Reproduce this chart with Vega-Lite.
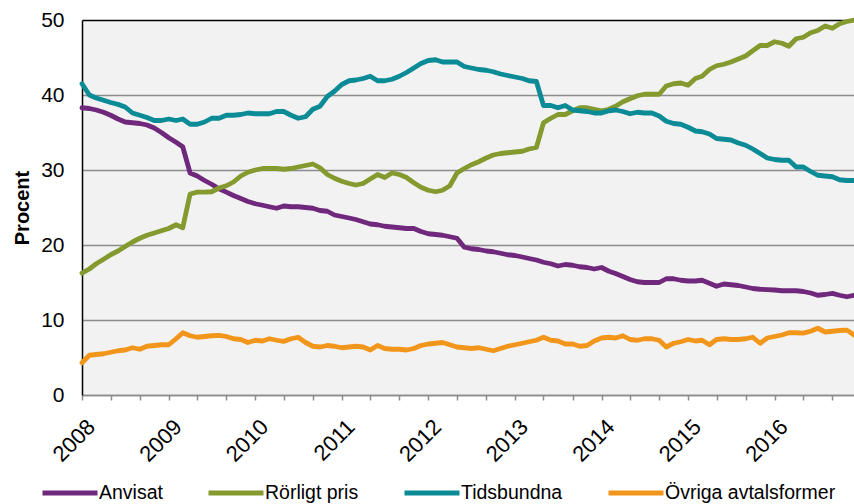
{
"$schema": "https://vega.github.io/schema/vega-lite/v6.json",
"width": 772, "height": 375,
"autosize": {"type": "none"},
"padding": {"left": 82, "top": 20, "right": 0, "bottom": 109},
"background": "white",
"config": {"view": {"fill": "#f2f2f2", "stroke": null}, "font": "Liberation Sans"},
"data": {"values": [
{"d":"2008-01-01","Anvisat":38.3,"Rörligt pris":16.25,"Tidsbundna":41.5,"Övriga avtalsformer":4.3},
{"d":"2008-02-01","Anvisat":38.2,"Rörligt pris":16.8,"Tidsbundna":40.0,"Övriga avtalsformer":5.3},
{"d":"2008-03-01","Anvisat":38.0,"Rörligt pris":17.5,"Tidsbundna":39.6,"Övriga avtalsformer":5.4},
{"d":"2008-04-01","Anvisat":37.7,"Rörligt pris":18.1,"Tidsbundna":39.3,"Övriga avtalsformer":5.5},
{"d":"2008-05-01","Anvisat":37.3,"Rörligt pris":18.7,"Tidsbundna":39.0,"Övriga avtalsformer":5.7},
{"d":"2008-06-01","Anvisat":36.8,"Rörligt pris":19.2,"Tidsbundna":38.75,"Övriga avtalsformer":5.9},
{"d":"2008-07-01","Anvisat":36.4,"Rörligt pris":19.8,"Tidsbundna":38.4,"Övriga avtalsformer":6.0},
{"d":"2008-08-01","Anvisat":36.3,"Rörligt pris":20.4,"Tidsbundna":37.6,"Övriga avtalsformer":6.3},
{"d":"2008-09-01","Anvisat":36.2,"Rörligt pris":20.9,"Tidsbundna":37.3,"Övriga avtalsformer":6.1},
{"d":"2008-10-01","Anvisat":36.0,"Rörligt pris":21.3,"Tidsbundna":37.0,"Övriga avtalsformer":6.5},
{"d":"2008-11-01","Anvisat":35.6,"Rörligt pris":21.6,"Tidsbundna":36.6,"Övriga avtalsformer":6.6},
{"d":"2008-12-01","Anvisat":35.0,"Rörligt pris":21.9,"Tidsbundna":36.6,"Övriga avtalsformer":6.7},
{"d":"2009-01-01","Anvisat":34.3,"Rörligt pris":22.2,"Tidsbundna":36.8,"Övriga avtalsformer":6.7},
{"d":"2009-02-01","Anvisat":33.7,"Rörligt pris":22.7,"Tidsbundna":36.6,"Övriga avtalsformer":7.5},
{"d":"2009-03-01","Anvisat":33.1,"Rörligt pris":22.3,"Tidsbundna":36.8,"Övriga avtalsformer":8.3},
{"d":"2009-04-01","Anvisat":29.6,"Rörligt pris":26.8,"Tidsbundna":36.1,"Övriga avtalsformer":7.9},
{"d":"2009-05-01","Anvisat":29.2,"Rörligt pris":27.05,"Tidsbundna":36.1,"Övriga avtalsformer":7.7},
{"d":"2009-06-01","Anvisat":28.6,"Rörligt pris":27.05,"Tidsbundna":36.4,"Övriga avtalsformer":7.8},
{"d":"2009-07-01","Anvisat":28.1,"Rörligt pris":27.1,"Tidsbundna":36.9,"Övriga avtalsformer":7.9},
{"d":"2009-08-01","Anvisat":27.5,"Rörligt pris":27.6,"Tidsbundna":36.9,"Övriga avtalsformer":7.95},
{"d":"2009-09-01","Anvisat":27.05,"Rörligt pris":27.9,"Tidsbundna":37.3,"Övriga avtalsformer":7.8},
{"d":"2009-10-01","Anvisat":26.6,"Rörligt pris":28.4,"Tidsbundna":37.3,"Övriga avtalsformer":7.5},
{"d":"2009-11-01","Anvisat":26.2,"Rörligt pris":29.2,"Tidsbundna":37.4,"Övriga avtalsformer":7.4},
{"d":"2009-12-01","Anvisat":25.8,"Rörligt pris":29.7,"Tidsbundna":37.6,"Övriga avtalsformer":7.0},
{"d":"2010-01-01","Anvisat":25.5,"Rörligt pris":30.0,"Tidsbundna":37.5,"Övriga avtalsformer":7.3},
{"d":"2010-02-01","Anvisat":25.3,"Rörligt pris":30.2,"Tidsbundna":37.5,"Övriga avtalsformer":7.2},
{"d":"2010-03-01","Anvisat":25.1,"Rörligt pris":30.2,"Tidsbundna":37.5,"Övriga avtalsformer":7.5},
{"d":"2010-04-01","Anvisat":24.9,"Rörligt pris":30.2,"Tidsbundna":37.8,"Övriga avtalsformer":7.3},
{"d":"2010-05-01","Anvisat":25.2,"Rörligt pris":30.1,"Tidsbundna":37.8,"Övriga avtalsformer":7.15},
{"d":"2010-06-01","Anvisat":25.1,"Rörligt pris":30.2,"Tidsbundna":37.3,"Övriga avtalsformer":7.5},
{"d":"2010-07-01","Anvisat":25.1,"Rörligt pris":30.4,"Tidsbundna":36.9,"Övriga avtalsformer":7.7},
{"d":"2010-08-01","Anvisat":25.0,"Rörligt pris":30.6,"Tidsbundna":37.1,"Övriga avtalsformer":7.0},
{"d":"2010-09-01","Anvisat":24.9,"Rörligt pris":30.8,"Tidsbundna":38.1,"Övriga avtalsformer":6.5},
{"d":"2010-10-01","Anvisat":24.6,"Rörligt pris":30.3,"Tidsbundna":38.5,"Övriga avtalsformer":6.4},
{"d":"2010-11-01","Anvisat":24.5,"Rörligt pris":29.4,"Tidsbundna":39.8,"Övriga avtalsformer":6.6},
{"d":"2010-12-01","Anvisat":24.0,"Rörligt pris":28.9,"Tidsbundna":40.5,"Övriga avtalsformer":6.5},
{"d":"2011-01-01","Anvisat":23.8,"Rörligt pris":28.5,"Tidsbundna":41.4,"Övriga avtalsformer":6.3},
{"d":"2011-02-01","Anvisat":23.6,"Rörligt pris":28.2,"Tidsbundna":41.9,"Övriga avtalsformer":6.4},
{"d":"2011-03-01","Anvisat":23.4,"Rörligt pris":28.0,"Tidsbundna":42.0,"Övriga avtalsformer":6.5},
{"d":"2011-04-01","Anvisat":23.1,"Rörligt pris":28.2,"Tidsbundna":42.2,"Övriga avtalsformer":6.4},
{"d":"2011-05-01","Anvisat":22.8,"Rörligt pris":28.8,"Tidsbundna":42.5,"Övriga avtalsformer":6.0},
{"d":"2011-06-01","Anvisat":22.7,"Rörligt pris":29.4,"Tidsbundna":41.9,"Övriga avtalsformer":6.6},
{"d":"2011-07-01","Anvisat":22.5,"Rörligt pris":29.0,"Tidsbundna":41.9,"Övriga avtalsformer":6.2},
{"d":"2011-08-01","Anvisat":22.4,"Rörligt pris":29.6,"Tidsbundna":42.1,"Övriga avtalsformer":6.1},
{"d":"2011-09-01","Anvisat":22.3,"Rörligt pris":29.4,"Tidsbundna":42.5,"Övriga avtalsformer":6.1},
{"d":"2011-10-01","Anvisat":22.2,"Rörligt pris":29.0,"Tidsbundna":43.0,"Övriga avtalsformer":6.0},
{"d":"2011-11-01","Anvisat":22.2,"Rörligt pris":28.3,"Tidsbundna":43.6,"Övriga avtalsformer":6.2},
{"d":"2011-12-01","Anvisat":21.8,"Rörligt pris":27.7,"Tidsbundna":44.2,"Övriga avtalsformer":6.6},
{"d":"2012-01-01","Anvisat":21.5,"Rörligt pris":27.3,"Tidsbundna":44.6,"Övriga avtalsformer":6.8},
{"d":"2012-02-01","Anvisat":21.4,"Rörligt pris":27.1,"Tidsbundna":44.7,"Övriga avtalsformer":6.9},
{"d":"2012-03-01","Anvisat":21.3,"Rörligt pris":27.3,"Tidsbundna":44.4,"Övriga avtalsformer":7.0},
{"d":"2012-04-01","Anvisat":21.1,"Rörligt pris":27.9,"Tidsbundna":44.4,"Övriga avtalsformer":6.7},
{"d":"2012-05-01","Anvisat":20.9,"Rörligt pris":29.6,"Tidsbundna":44.4,"Övriga avtalsformer":6.4},
{"d":"2012-06-01","Anvisat":19.7,"Rörligt pris":30.2,"Tidsbundna":43.8,"Övriga avtalsformer":6.3},
{"d":"2012-07-01","Anvisat":19.5,"Rörligt pris":30.7,"Tidsbundna":43.6,"Övriga avtalsformer":6.2},
{"d":"2012-08-01","Anvisat":19.4,"Rörligt pris":31.1,"Tidsbundna":43.4,"Övriga avtalsformer":6.3},
{"d":"2012-09-01","Anvisat":19.2,"Rörligt pris":31.6,"Tidsbundna":43.3,"Övriga avtalsformer":6.1},
{"d":"2012-10-01","Anvisat":19.1,"Rörligt pris":32.0,"Tidsbundna":43.1,"Övriga avtalsformer":5.9},
{"d":"2012-11-01","Anvisat":18.9,"Rörligt pris":32.2,"Tidsbundna":42.8,"Övriga avtalsformer":6.2},
{"d":"2012-12-01","Anvisat":18.7,"Rörligt pris":32.3,"Tidsbundna":42.6,"Övriga avtalsformer":6.5},
{"d":"2013-01-01","Anvisat":18.6,"Rörligt pris":32.4,"Tidsbundna":42.4,"Övriga avtalsformer":6.7},
{"d":"2013-02-01","Anvisat":18.4,"Rörligt pris":32.5,"Tidsbundna":42.2,"Övriga avtalsformer":6.9},
{"d":"2013-03-01","Anvisat":18.2,"Rörligt pris":32.8,"Tidsbundna":41.9,"Övriga avtalsformer":7.1},
{"d":"2013-04-01","Anvisat":18.0,"Rörligt pris":33.0,"Tidsbundna":41.8,"Övriga avtalsformer":7.3},
{"d":"2013-05-01","Anvisat":17.7,"Rörligt pris":36.3,"Tidsbundna":38.6,"Övriga avtalsformer":7.7},
{"d":"2013-06-01","Anvisat":17.5,"Rörligt pris":36.9,"Tidsbundna":38.6,"Övriga avtalsformer":7.3},
{"d":"2013-07-01","Anvisat":17.2,"Rörligt pris":37.4,"Tidsbundna":38.3,"Övriga avtalsformer":7.2},
{"d":"2013-08-01","Anvisat":17.4,"Rörligt pris":37.4,"Tidsbundna":38.6,"Övriga avtalsformer":6.8},
{"d":"2013-09-01","Anvisat":17.3,"Rörligt pris":37.9,"Tidsbundna":38.0,"Övriga avtalsformer":6.8},
{"d":"2013-10-01","Anvisat":17.1,"Rörligt pris":38.3,"Tidsbundna":37.9,"Övriga avtalsformer":6.5},
{"d":"2013-11-01","Anvisat":17.0,"Rörligt pris":38.3,"Tidsbundna":37.8,"Övriga avtalsformer":6.6},
{"d":"2013-12-01","Anvisat":16.8,"Rörligt pris":38.1,"Tidsbundna":37.6,"Övriga avtalsformer":7.2},
{"d":"2014-01-01","Anvisat":17.0,"Rörligt pris":37.9,"Tidsbundna":37.6,"Övriga avtalsformer":7.6},
{"d":"2014-02-01","Anvisat":16.5,"Rörligt pris":38.1,"Tidsbundna":37.9,"Övriga avtalsformer":7.7},
{"d":"2014-03-01","Anvisat":16.2,"Rörligt pris":38.5,"Tidsbundna":38.0,"Övriga avtalsformer":7.6},
{"d":"2014-04-01","Anvisat":15.8,"Rörligt pris":39.1,"Tidsbundna":37.8,"Övriga avtalsformer":7.9},
{"d":"2014-05-01","Anvisat":15.4,"Rörligt pris":39.5,"Tidsbundna":37.5,"Övriga avtalsformer":7.4},
{"d":"2014-06-01","Anvisat":15.1,"Rörligt pris":39.9,"Tidsbundna":37.7,"Övriga avtalsformer":7.3},
{"d":"2014-07-01","Anvisat":15.0,"Rörligt pris":40.1,"Tidsbundna":37.6,"Övriga avtalsformer":7.5},
{"d":"2014-08-01","Anvisat":15.0,"Rörligt pris":40.1,"Tidsbundna":37.6,"Övriga avtalsformer":7.5},
{"d":"2014-09-01","Anvisat":15.0,"Rörligt pris":40.1,"Tidsbundna":37.2,"Övriga avtalsformer":7.3},
{"d":"2014-10-01","Anvisat":15.5,"Rörligt pris":41.2,"Tidsbundna":36.5,"Övriga avtalsformer":6.4},
{"d":"2014-11-01","Anvisat":15.5,"Rörligt pris":41.5,"Tidsbundna":36.2,"Övriga avtalsformer":6.9},
{"d":"2014-12-01","Anvisat":15.3,"Rörligt pris":41.6,"Tidsbundna":36.1,"Övriga avtalsformer":7.1},
{"d":"2015-01-01","Anvisat":15.2,"Rörligt pris":41.3,"Tidsbundna":35.7,"Övriga avtalsformer":7.4},
{"d":"2015-02-01","Anvisat":15.2,"Rörligt pris":42.2,"Tidsbundna":35.2,"Övriga avtalsformer":7.2},
{"d":"2015-03-01","Anvisat":15.3,"Rörligt pris":42.5,"Tidsbundna":35.1,"Övriga avtalsformer":7.3},
{"d":"2015-04-01","Anvisat":14.9,"Rörligt pris":43.4,"Tidsbundna":34.8,"Övriga avtalsformer":6.7},
{"d":"2015-05-01","Anvisat":14.5,"Rörligt pris":43.9,"Tidsbundna":34.2,"Övriga avtalsformer":7.4},
{"d":"2015-06-01","Anvisat":14.8,"Rörligt pris":44.1,"Tidsbundna":34.1,"Övriga avtalsformer":7.5},
{"d":"2015-07-01","Anvisat":14.7,"Rörligt pris":44.4,"Tidsbundna":34.0,"Övriga avtalsformer":7.4},
{"d":"2015-08-01","Anvisat":14.6,"Rörligt pris":44.8,"Tidsbundna":33.6,"Övriga avtalsformer":7.4},
{"d":"2015-09-01","Anvisat":14.4,"Rörligt pris":45.2,"Tidsbundna":33.3,"Övriga avtalsformer":7.5},
{"d":"2015-10-01","Anvisat":14.2,"Rörligt pris":45.9,"Tidsbundna":32.8,"Övriga avtalsformer":7.7},
{"d":"2015-11-01","Anvisat":14.1,"Rörligt pris":46.6,"Tidsbundna":32.2,"Övriga avtalsformer":6.9},
{"d":"2015-12-01","Anvisat":14.05,"Rörligt pris":46.6,"Tidsbundna":31.6,"Övriga avtalsformer":7.6},
{"d":"2016-01-01","Anvisat":14.0,"Rörligt pris":47.1,"Tidsbundna":31.4,"Övriga avtalsformer":7.8},
{"d":"2016-02-01","Anvisat":13.9,"Rörligt pris":46.9,"Tidsbundna":31.3,"Övriga avtalsformer":8.0},
{"d":"2016-03-01","Anvisat":13.9,"Rörligt pris":46.5,"Tidsbundna":31.3,"Övriga avtalsformer":8.3},
{"d":"2016-04-01","Anvisat":13.9,"Rörligt pris":47.5,"Tidsbundna":30.4,"Övriga avtalsformer":8.3},
{"d":"2016-05-01","Anvisat":13.8,"Rörligt pris":47.7,"Tidsbundna":30.4,"Övriga avtalsformer":8.25},
{"d":"2016-06-01","Anvisat":13.6,"Rörligt pris":48.3,"Tidsbundna":29.8,"Övriga avtalsformer":8.5},
{"d":"2016-07-01","Anvisat":13.3,"Rörligt pris":48.6,"Tidsbundna":29.3,"Övriga avtalsformer":8.9},
{"d":"2016-08-01","Anvisat":13.4,"Rörligt pris":49.2,"Tidsbundna":29.2,"Övriga avtalsformer":8.4},
{"d":"2016-09-01","Anvisat":13.55,"Rörligt pris":48.9,"Tidsbundna":29.1,"Övriga avtalsformer":8.5},
{"d":"2016-10-01","Anvisat":13.3,"Rörligt pris":49.5,"Tidsbundna":28.7,"Övriga avtalsformer":8.6},
{"d":"2016-11-01","Anvisat":13.1,"Rörligt pris":49.8,"Tidsbundna":28.6,"Övriga avtalsformer":8.65},
{"d":"2016-12-01","Anvisat":13.3,"Rörligt pris":50.0,"Tidsbundna":28.6,"Övriga avtalsformer":8.0}
]},
"transform": [{"fold": ["Anvisat", "Rörligt pris", "Tidsbundna", "Övriga avtalsformer"], "as": ["serie", "value"]}],
"mark": {"type": "line", "strokeWidth": 4.8, "strokeJoin": "round", "strokeCap": "round"},
"encoding": {
  "x": {"field": "d", "type": "temporal",
    "scale": {"type": "utc", "domain": [{"year": 2008, "month": 1, "date": 1, "utc": true}, {"year": 2016, "month": 12, "date": 1, "utc": true}]},
    "axis": {"title": null, "grid": false, "tickCount": {"interval": "month", "step": 4},
      "labelExpr": "utcFormat(datum.value, '%m') == '01' ? utcFormat(datum.value, '%Y') : ''",
      "labelAngle": -45, "labelAlign": "right", "labelBaseline": "middle", "labelFontSize": 22, "labelColor": "black",
      "labelPadding": 23, "labelOffset": 9, "labelOverlap": false, "labelBound": false, "labelFlush": false,
      "tickSize": 5, "tickColor": "#8c8c8c", "tickWidth": 1.5, "domainColor": "#8c8c8c", "domainWidth": 1.5}},
  "y": {"field": "value", "type": "quantitative",
    "scale": {"domain": [0, 50], "nice": false},
    "axis": {"title": "Procent", "titleFontSize": 20, "titleFontWeight": "bold", "titleColor": "black", "titlePadding": 8,
      "values": [0, 10, 20, 30, 40, 50], "grid": true, "gridWidth": 1.5,
      "gridColor": {"condition": {"test": "datum.value === 50", "value": "#000000"}, "value": "#8c8c8c"},
      "ticks": false, "tickSize": 0, "labelPadding": 18, "labelFontSize": 21, "labelColor": "black",
      "domainColor": "#000000", "domainWidth": 1.5}},
  "color": {"field": "serie", "type": "nominal",
    "scale": {"domain": ["Anvisat", "Rörligt pris", "Tidsbundna", "Övriga avtalsformer"], "range": ["#70287c", "#84992e", "#0b8b96", "#f2961b"]},
    "legend": {"title": null, "orient": "none", "legendX": -42, "legendY": 443, "direction": "horizontal",
      "symbolType": "stroke", "symbolSize": 3025, "symbolStrokeWidth": 5, "labelFontSize": 19.5, "labelColor": "black",
      "labelOffset": -1, "labelLimit": 0, "columnPadding": 35}}
}
}
